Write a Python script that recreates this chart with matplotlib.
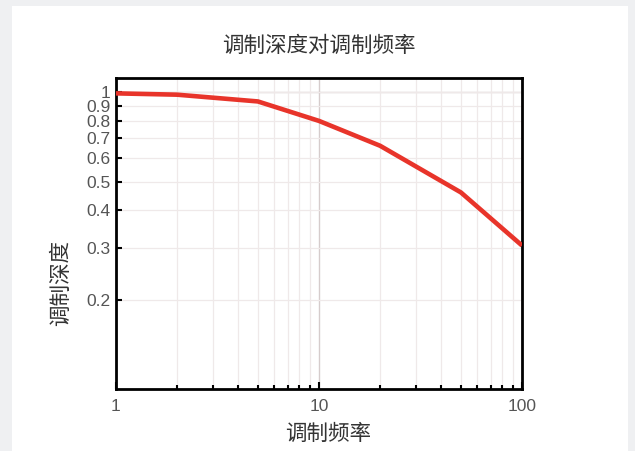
import matplotlib.pyplot as plt
from matplotlib.patches import Rectangle
from matplotlib.ticker import FixedLocator, NullFormatter, LogLocator

plt.rcParams['font.family'] = ['Noto Sans CJK SC', 'DejaVu Sans']

# data
freq = [1, 2, 5, 10, 20, 50, 100]
depth = [0.99, 0.98, 0.93, 0.80, 0.66, 0.46, 0.305]
y_ticks = [0.2, 0.3, 0.4, 0.5, 0.6, 0.7, 0.8, 0.9, 1]
y_labels = ['0.2', '0.3', '0.4', '0.5', '0.6', '0.7', '0.8', '0.9', '1']
x_ticks = [1, 10, 100]
x_labels = ['1', '10', '100']

fig = plt.figure(figsize=(6.35, 4.51), dpi=100)
fig.patch.set_facecolor('#eff0f2')
# white panel behind everything
fig.patches.append(Rectangle((12 / 635, 0), (628 - 12) / 635, 1 - 6 / 451,
                             transform=fig.transFigure, facecolor='white',
                             edgecolor='none', zorder=-10))

ax = fig.add_axes([116 / 635, 1 - 389 / 451, (522 - 116) / 635, (389 - 78) / 451])
ax.set_zorder(1)
ax.set_xscale('log')
ax.set_yscale('log')
ax.set_xlim(1, 100)
ax.set_ylim(0.1005, 1.115)

ax.plot(freq, depth, color='#e8342a', lw=3.3, solid_capstyle='butt', zorder=3)

# grid
ax.xaxis.set_minor_locator(LogLocator(base=10, subs=range(2, 10)))
ax.xaxis.set_minor_formatter(NullFormatter())
ax.grid(True, which='major', axis='x', color='#d6cccc', lw=1.0)
ax.grid(True, which='minor', axis='x', color='#efe9e9', lw=0.9)
ax.yaxis.set_major_locator(FixedLocator(y_ticks))
ax.yaxis.set_minor_locator(FixedLocator([]))
ax.set_yticklabels(y_labels)
ax.grid(True, which='major', axis='y', color='#efe9e9', lw=0.9)
ax.axhline(1, color='#d6cccc', lw=1.0, zorder=1)

ax.set_xticks(x_ticks)
ax.set_xticklabels(x_labels)

for s in ax.spines.values():
    s.set_linewidth(2)
    s.set_color('black')

ax.tick_params(axis='both', which='both', direction='in', color='black',
               labelcolor='#555555', labelsize=12.5, top=False, right=False)
ax.tick_params(axis='x', which='major', length=5, width=1.5, pad=7)
ax.tick_params(axis='x', which='minor', length=3, width=1.5)
ax.tick_params(axis='y', which='major', length=4, width=1.5, pad=4)
for lab in ax.get_xticklabels() + ax.get_yticklabels():
    lab.set_family(['Liberation Sans', 'DejaVu Sans'])

ax.set_title('调制深度对调制频率', fontsize=15.5, color='#333333', pad=19)
ax.set_xlabel('调制频率', fontsize=15.5, color='#333333')
ax.set_ylabel('调制深度', fontsize=15.5, color='#333333')
ax.xaxis.set_label_coords(0.522, -0.108)
ax.yaxis.set_label_coords(-0.108, 0.34)

fig.savefig('out.png', dpi=100, facecolor=fig.get_facecolor())
